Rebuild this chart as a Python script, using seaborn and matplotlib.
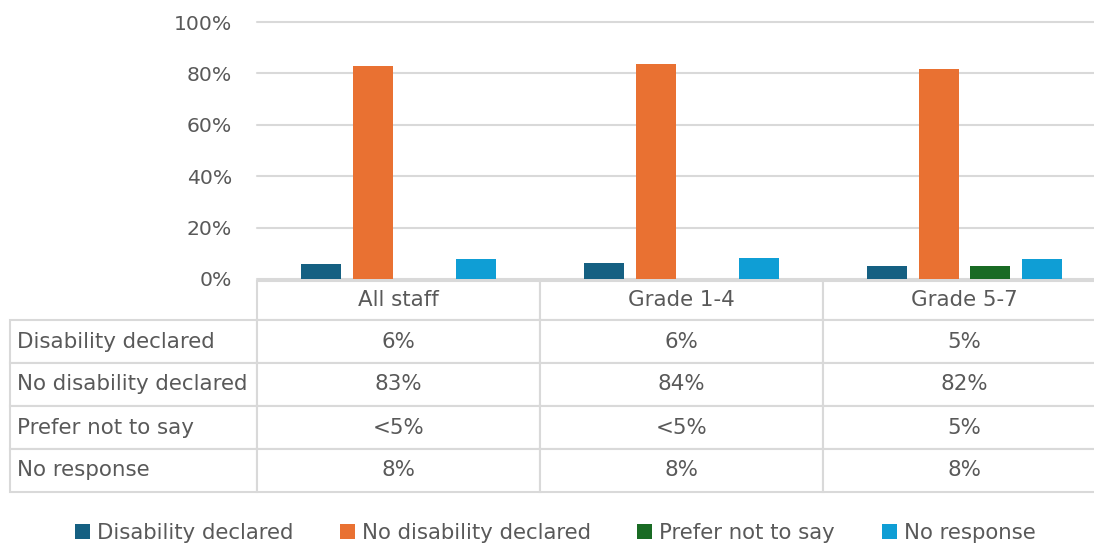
import pandas as pd
import seaborn as sns
import matplotlib
matplotlib.use('Agg')
import matplotlib.pyplot as plt
from matplotlib.patches import Patch

groups = ["All staff", "Grade 1-4", "Grade 5-7"]
categories = ["Disability declared", "No disability declared", "Prefer not to say", "No response"]
colors = ["#156082", "#E97132", "#196B24", "#0F9ED5"]

# bar heights (%); "<5%" suppressed values have no bar
disability = [5.8, 6.4, 5.2]
no_disability = [82.9, 83.8, 81.7]
prefer_not = [0, 0, 5.2]
no_response = [7.7, 8.1, 7.7]

# labels shown in the data table
table_text = [
    ["6%", "6%", "5%"],
    ["83%", "84%", "82%"],
    ["<5%", "<5%", "5%"],
    ["8%", "8%", "8%"],
]

yticks = [0, 20, 40, 60, 80, 100]
grey = "#595959"
line = "#D9D9D9"

sns.set_style("white")
plt.rcParams['font.family'] = ['DejaVu Sans']

df = pd.DataFrame({
    "group": groups * 4,
    "category": [c for c in categories for _ in groups],
    "value": disability + no_disability + prefer_not + no_response,
})

W, H = 1094, 544
fig = plt.figure(figsize=(W / 100, H / 100), dpi=100)

# chart area: x 257..1106 px, y 22..279 px
ax = fig.add_axes([257 / W, (H - 279) / H, 849 / W, 257 / H])
sns.barplot(data=df, x="group", y="value", hue="category", hue_order=categories,
            palette=colors, saturation=1, width=0.73, gap=0.22, linewidth=0,
            legend=False, ax=ax)
ax.set_xlim(-0.5, 2.5)
ax.set_ylim(0, 100)
ax.set_yticks(yticks)
ax.set_yticklabels([f"{t}%" for t in yticks])
ax.tick_params(axis='y', length=0, pad=18, labelsize=14.7, labelcolor=grey)
ax.set_xticks([])
ax.set_xlabel("")
ax.set_ylabel("")
ax.grid(axis='y', color=line, linewidth=1.5)
ax.set_axisbelow(True)
for gl in ax.get_ygridlines():
    gl.set_clip_on(False)
for s in ax.spines.values():
    s.set_visible(False)

# data table below: x 10..1106 px, y 281..492 px
tax = fig.add_axes([10 / W, (H - 492) / H, 1096 / W, 211 / H])
tax.axis('off')
cell_text = [[""] + groups] + [[c] + row for c, row in zip(categories, table_text)]
tab = tax.table(cellText=cell_text, cellLoc='center',
                colWidths=[247, 283, 283, 283], bbox=[0, 0, 1, 1])
tab.auto_set_font_size(False)
tab.set_fontsize(15.4)
for (r, c), cell in tab.get_celld().items():
    cell.set_edgecolor(line)
    cell.set_linewidth(1.5)
    cell.set_height(39 if r == 0 else 43)
    cell.get_text().set_color(grey)
    if c == 0:
        cell.PAD = 0.028
        cell.get_text().set_ha('left')
        cell._loc = 'left'
    if r == 0 and c == 0:
        cell.visible_edges = ''

handles = [Patch(facecolor=col, edgecolor='none') for col in colors]
fig.legend(handles, categories, loc='center', bbox_to_anchor=(555 / W, 1 - 533 / H),
           ncol=4, frameon=False, fontsize=15.3, handlelength=0.7, handleheight=0.7,
           handletextpad=0.33, columnspacing=2.2, labelcolor=grey)

fig.savefig("out.png", dpi=100)
